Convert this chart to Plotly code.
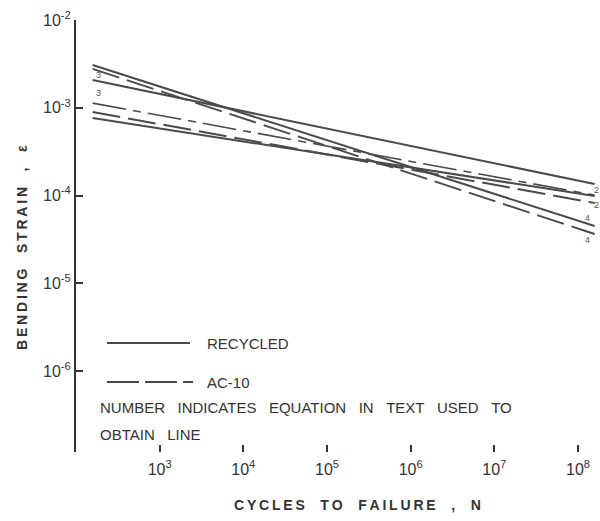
import plotly.graph_objects as go
import math

# ---- data ----
N_ENDS = [158, 1.58e8]                 # cycles to failure at line ends
recycled_eq4 = [3.07e-3, 4.49e-5]      # solid, steep
recycled_eq3 = [2.07e-3, 1.35e-4]      # solid, shallow top
recycled_eq2 = [7.64e-4, 9.86e-5]      # solid, lowest at left
ac10_eq4 = [2.77e-3, 3.64e-5]          # dashed, steep
ac10_eq3 = [1.13e-3, 1.01e-4]          # dash-dot
ac10_eq2 = [8.95e-4, 8.22e-5]          # dashed

x_tick_vals = [1e3, 1e4, 1e5, 1e6, 1e7, 1e8]
x_tick_text = ["10<sup>3</sup>", "10<sup>4</sup>", "10<sup>5</sup>",
               "10<sup>6</sup>", "10<sup>7</sup>", "10<sup>8</sup>"]
y_tick_vals = [1e-2, 1e-3, 1e-4, 1e-5, 1e-6]
y_tick_text = ["10<sup>-2</sup>", "10<sup>-3</sup>", "10<sup>-4</sup>",
               "10<sup>-5</sup>", "10<sup>-6</sup>"]

# equation number labels (N, strain, text)
eq_labels = [(185, 2.36e-3, "3"), (185, 1.47e-3, "3"),
             (1.65e8, 1.16e-4, "2"), (1.65e8, 7.8e-5, "2"),
             (1.3e8, 5.5e-5, "4"), (1.3e8, 3.1e-5, "4")]

INK = "#333333"
FONT = "Liberation Sans, Arial, sans-serif"

W, H = 600, 521
ML, MR, MT, MB = 76, 0, 20, 69
XR = [2, 8.263]
YR = [-6.923, -2]

fig = go.Figure()

def add_line(y, dash, width=2.0):
    fig.add_trace(go.Scatter(x=N_ENDS, y=y, mode="lines",
                             line=dict(color="#4a4a4a", width=width, dash=dash),
                             showlegend=False, hoverinfo="skip"))

add_line(recycled_eq4, "solid")
add_line(recycled_eq3, "solid")
add_line(recycled_eq2, "solid")
add_line(ac10_eq4, "28px,8px")
add_line(ac10_eq3, "34px,7px,8px,7px", 1.6)
add_line(ac10_eq2, "28px,8px")

for xn, ys, t in eq_labels:
    fig.add_annotation(x=math.log10(xn), y=math.log10(ys), text=t,
                       showarrow=False, xref="x", yref="y",
                       font=dict(size=9, color="#555", family=FONT))

pw = W - ML - MR
ph = H - MT - MB
def px(x):
    return (x - ML) / pw
def py(y):
    return (H - MB - y) / ph

# x axis line only up to 10^8
fig.add_shape(type="line", xref="x", yref="paper", x0=2, x1=8, y0=0, y1=0,
              line=dict(color=INK, width=2))

# legend samples
fig.add_shape(type="line", xref="paper", yref="paper",
              x0=px(107), x1=px(190), y0=py(343), y1=py(343),
              line=dict(color="#4a4a4a", width=2))
fig.add_shape(type="line", xref="paper", yref="paper",
              x0=px(107), x1=px(193), y0=py(382), y1=py(382),
              line=dict(color="#4a4a4a", width=2, dash="32px,6px"))

def txt(x, y, s, size=15, bold=False, xanchor="left", angle=0):
    fig.add_annotation(x=px(x), y=py(y), xref="paper", yref="paper",
                       text=("<b>%s</b>" % s) if bold else s,
                       showarrow=False, xanchor=xanchor, yanchor="middle",
                       textangle=angle,
                       font=dict(size=size, color=INK, family=FONT))

sp = "&nbsp;" * 3
txt(205, 343, "RECYCLED", 15)
txt(205, 382, "AC-10", 15)
txt(98, 407, sp.join(["NUMBER", "INDICATES", "EQUATION", "IN", "TEXT", "USED", "TO"]), 15)
txt(98, 434, sp.join(["OBTAIN", "LINE"]), 15)

def spaced(words, gap):
    thin = "\u2009"
    return gap.join(thin.join(list(w)) for w in words)

txt(357, 505, spaced(["CYCLES", "TO", "FAILURE", ",", "N"], "&nbsp;" * 4), 14, True, "center")
txt(22, 248, spaced(["BENDING", "STRAIN", ",", "ε"], "&nbsp;" * 4), 14, True, "center", -90)

fig.update_layout(
    width=W, height=H,
    margin=dict(l=ML, r=MR, t=MT, b=MB),
    paper_bgcolor="white", plot_bgcolor="white",
    font=dict(family=FONT, color=INK),
    xaxis=dict(type="log", range=XR, tickvals=x_tick_vals, ticktext=x_tick_text,
               ticks="inside", ticklen=7, tickwidth=2, tickcolor=INK,
               showline=False, showgrid=False, zeroline=False,
               tickfont=dict(size=16, color=INK), ticklabelstandoff=6),
    yaxis=dict(type="log", range=YR, tickvals=y_tick_vals, ticktext=y_tick_text,
               ticks="inside", ticklen=7, tickwidth=2, tickcolor=INK,
               showline=True, linecolor=INK, linewidth=2,
               showgrid=False, zeroline=False,
               tickfont=dict(size=16, color=INK)),
    showlegend=False,
)

fig.write_html("out.html")
